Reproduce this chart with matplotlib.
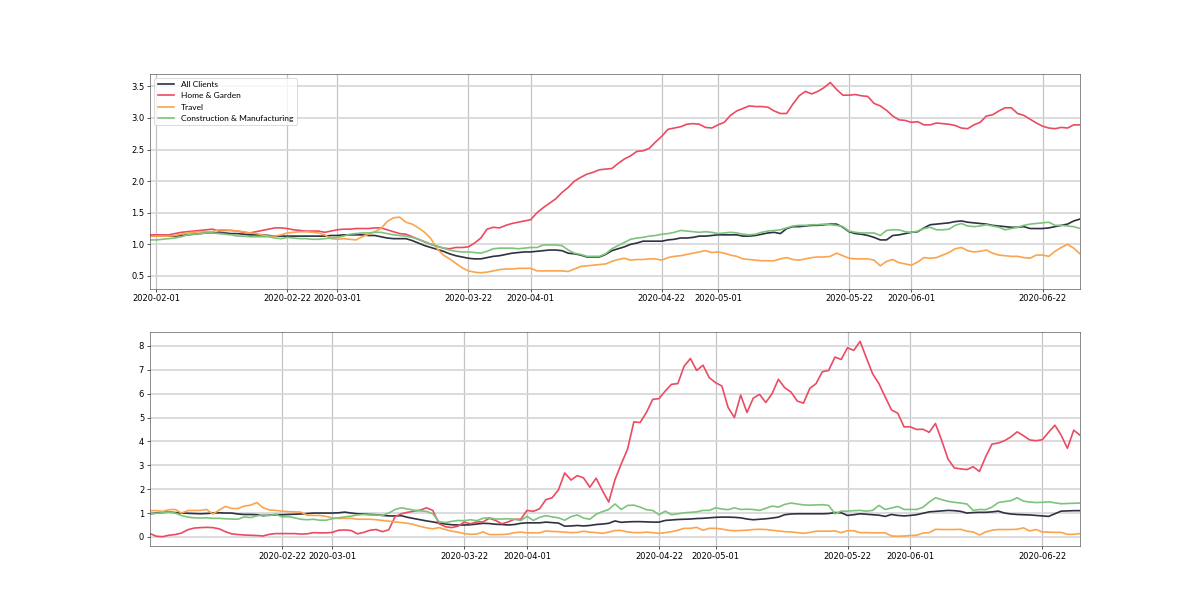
import matplotlib
matplotlib.use("Agg")
import matplotlib.pyplot as plt
import matplotlib.dates as mdates
import pandas as pd

series_names = ["All Clients", "Home & Garden", "Travel", "Construction & Manufacturing"]
colors = ["#2D3142", "#EB4B62", "#FBA44E", "#7DC47B"]

# ---- top panel (daily, 2020-01-31 .. 2020-06-28) ----
top_start = "2020-01-31"
top_all = [1.13,1.13,1.13,1.13,1.13,1.14,1.15,1.16,1.17,1.18,
           1.18,1.18,1.18,1.17,1.17,1.16,1.15,1.15,1.15,1.14,
           1.13,1.13,1.13,1.13,1.13,1.13,1.13,1.13,1.13,1.14,
           1.14,1.15,1.15,1.15,1.15,1.14,1.14,1.12,1.10,1.09,
           1.09,1.09,1.06,1.02,0.98,0.95,0.92,0.89,0.85,0.82,
           0.80,0.78,0.77,0.77,0.79,0.81,0.82,0.84,0.86,0.87,
           0.88,0.88,0.89,0.90,0.91,0.91,0.90,0.86,0.85,0.83,
           0.80,0.80,0.80,0.84,0.90,0.93,0.96,1.00,1.02,1.05,
           1.05,1.05,1.05,1.07,1.08,1.10,1.10,1.11,1.13,1.13,
           1.14,1.15,1.15,1.15,1.15,1.13,1.13,1.14,1.16,1.18,
           1.19,1.17,1.25,1.28,1.28,1.29,1.30,1.30,1.31,1.32,
           1.32,1.27,1.20,1.17,1.16,1.14,1.11,1.07,1.07,1.14,
           1.15,1.17,1.19,1.20,1.26,1.31,1.32,1.33,1.34,1.36,
           1.37,1.35,1.34,1.33,1.32,1.30,1.29,1.28,1.27,1.27,
           1.28,1.25,1.25,1.25,1.26,1.28,1.30,1.32,1.37,1.40]
top_home = [1.15,1.15,1.15,1.15,1.17,1.19,1.20,1.21,1.22,1.23,
            1.24,1.21,1.22,1.22,1.21,1.19,1.18,1.20,1.22,1.24,
            1.26,1.26,1.25,1.23,1.22,1.21,1.21,1.21,1.19,1.21,
            1.23,1.24,1.24,1.25,1.25,1.25,1.26,1.26,1.23,1.20,
            1.17,1.16,1.12,1.08,1.04,1.00,0.97,0.94,0.93,0.95,
            0.95,0.96,1.02,1.10,1.24,1.27,1.26,1.30,1.33,1.35,
            1.37,1.39,1.50,1.58,1.65,1.72,1.82,1.90,2.00,2.06,
            2.11,2.14,2.18,2.19,2.20,2.28,2.35,2.40,2.47,2.48,
            2.52,2.62,2.71,2.82,2.84,2.86,2.90,2.91,2.90,2.85,
            2.84,2.89,2.93,3.04,3.11,3.15,3.19,3.18,3.18,3.17,
            3.11,3.07,3.07,3.22,3.35,3.42,3.38,3.42,3.48,3.56,
            3.45,3.36,3.36,3.37,3.35,3.34,3.23,3.19,3.12,3.03,
            2.97,2.96,2.93,2.94,2.89,2.89,2.92,2.91,2.90,2.88,
            2.84,2.83,2.89,2.93,3.03,3.05,3.11,3.16,3.16,3.07,
            3.04,2.98,2.92,2.87,2.84,2.83,2.85,2.84,2.89,2.89]
top_travel = [1.13,1.13,1.13,1.13,1.14,1.16,1.18,1.19,1.20,1.20,
              1.20,1.23,1.23,1.22,1.21,1.20,1.18,1.17,1.15,1.13,
              1.13,1.15,1.18,1.19,1.20,1.20,1.19,1.18,1.15,1.09,
              1.08,1.09,1.08,1.07,1.12,1.16,1.20,1.25,1.36,1.42,
              1.43,1.35,1.32,1.26,1.19,1.09,0.93,0.83,0.77,0.70,
              0.63,0.58,0.56,0.55,0.56,0.58,0.60,0.61,0.61,0.62,
              0.62,0.62,0.58,0.58,0.58,0.58,0.58,0.57,0.61,0.65,
              0.66,0.67,0.68,0.69,0.73,0.76,0.78,0.75,0.76,0.76,
              0.77,0.77,0.75,0.79,0.81,0.82,0.84,0.86,0.88,0.90,
              0.87,0.88,0.86,0.83,0.81,0.77,0.76,0.75,0.74,0.74,
              0.74,0.77,0.79,0.76,0.75,0.77,0.79,0.80,0.80,0.81,
              0.86,0.82,0.78,0.77,0.77,0.77,0.75,0.66,0.73,0.76,
              0.71,0.69,0.67,0.72,0.79,0.78,0.79,0.83,0.87,0.93,
              0.95,0.90,0.88,0.89,0.91,0.86,0.83,0.82,0.81,0.81,
              0.79,0.78,0.83,0.83,0.81,0.89,0.95,1.00,0.94,0.85]
top_constr = [1.07,1.07,1.08,1.09,1.10,1.12,1.15,1.16,1.17,1.18,
              1.18,1.17,1.16,1.15,1.13,1.13,1.12,1.12,1.12,1.12,
              1.10,1.09,1.11,1.10,1.09,1.09,1.08,1.08,1.09,1.10,
              1.11,1.13,1.16,1.17,1.18,1.18,1.19,1.19,1.17,1.15,
              1.14,1.13,1.11,1.08,1.04,1.00,0.97,0.94,0.91,0.89,
              0.88,0.88,0.87,0.86,0.89,0.93,0.94,0.94,0.94,0.93,
              0.94,0.95,0.95,0.99,0.99,0.99,0.98,0.91,0.86,0.84,
              0.81,0.81,0.81,0.85,0.93,0.98,1.03,1.08,1.10,1.11,
              1.13,1.14,1.16,1.17,1.19,1.22,1.21,1.20,1.19,1.20,
              1.19,1.17,1.18,1.19,1.18,1.16,1.15,1.16,1.19,1.21,
              1.22,1.23,1.26,1.29,1.30,1.30,1.31,1.31,1.32,1.31,
              1.30,1.28,1.21,1.19,1.18,1.18,1.18,1.14,1.22,1.23,
              1.23,1.20,1.19,1.21,1.25,1.27,1.23,1.23,1.24,1.30,
              1.33,1.29,1.28,1.29,1.31,1.29,1.27,1.23,1.25,1.27,
              1.30,1.32,1.33,1.34,1.35,1.30,1.30,1.29,1.28,1.25]

# ---- bottom panel (daily, 2020-02-01 .. 2020-06-28) ----
bot_start = "2020-02-01"
bot_all = [0.97,1.00,1.03,1.04,1.02,1.00,0.99,0.98,0.97,0.98,
           1.00,1.01,1.00,1.00,0.96,0.94,0.94,0.93,0.89,0.91,
           0.93,0.93,0.94,0.95,0.96,0.98,1.00,1.00,1.00,1.00,
           1.01,1.04,1.00,0.97,0.96,0.94,0.93,0.90,0.88,0.88,
           0.89,0.82,0.77,0.72,0.67,0.63,0.58,0.54,0.51,0.50,
           0.50,0.51,0.54,0.57,0.56,0.53,0.52,0.50,0.52,0.57,
           0.59,0.59,0.59,0.62,0.60,0.58,0.45,0.46,0.48,0.46,
           0.48,0.52,0.54,0.57,0.67,0.61,0.63,0.64,0.64,0.63,
           0.62,0.62,0.69,0.71,0.73,0.74,0.75,0.77,0.78,0.80,
           0.82,0.83,0.83,0.82,0.80,0.75,0.72,0.74,0.76,0.79,
           0.83,0.93,0.96,0.97,0.97,0.97,0.97,0.97,0.98,1.02,
           1.01,0.90,0.93,0.97,0.95,0.93,0.91,0.86,0.94,0.90,
           0.88,0.90,0.93,0.99,1.05,1.07,1.09,1.11,1.10,1.07,
           1.00,1.02,1.03,1.03,1.05,1.08,1.00,0.96,0.94,0.93,
           0.92,0.90,0.88,0.86,0.97,1.08,1.09,1.10,1.10]
bot_home = [0.14,0.03,0.01,0.07,0.10,0.16,0.30,0.37,0.39,0.40,
            0.39,0.34,0.22,0.13,0.10,0.08,0.07,0.06,0.04,0.11,
            0.14,0.14,0.14,0.14,0.12,0.13,0.18,0.17,0.17,0.19,
            0.28,0.29,0.27,0.13,0.19,0.28,0.31,0.22,0.30,0.85,
            0.97,1.03,1.08,1.12,1.22,1.11,0.55,0.43,0.39,0.45,
            0.62,0.55,0.63,0.63,0.78,0.69,0.55,0.63,0.74,0.74,
            1.11,1.07,1.18,1.56,1.64,1.97,2.68,2.38,2.57,2.47,
            2.08,2.46,1.94,1.46,2.40,3.06,3.68,4.82,4.79,5.21,
            5.76,5.79,6.11,6.39,6.42,7.15,7.47,6.97,7.19,6.67,
            6.46,6.32,5.42,5.00,5.94,5.21,5.81,5.97,5.63,6.00,
            6.60,6.25,6.07,5.69,5.60,6.22,6.42,6.92,6.97,7.53,
            7.43,7.92,7.81,8.19,7.50,6.83,6.42,5.86,5.32,5.18,
            4.61,4.61,4.50,4.51,4.38,4.75,4.03,3.26,2.89,2.85,
            2.82,2.94,2.74,3.36,3.89,3.93,4.03,4.19,4.40,4.24,
            4.06,4.03,4.07,4.38,4.68,4.26,3.71,4.47,4.26]
bot_travel = [1.10,1.10,1.07,1.14,1.15,1.00,1.10,1.11,1.11,1.15,
              0.96,1.12,1.28,1.19,1.19,1.29,1.33,1.44,1.22,1.13,
              1.11,1.08,1.06,1.05,1.04,0.91,0.90,0.90,0.86,0.80,
              0.77,0.78,0.78,0.74,0.74,0.74,0.72,0.69,0.66,0.63,
              0.60,0.57,0.52,0.44,0.38,0.34,0.39,0.31,0.24,0.20,
              0.14,0.11,0.12,0.21,0.10,0.10,0.10,0.12,0.18,0.20,
              0.17,0.17,0.17,0.25,0.23,0.22,0.20,0.18,0.19,0.24,
              0.20,0.18,0.15,0.20,0.27,0.27,0.21,0.18,0.18,0.20,
              0.18,0.15,0.18,0.22,0.28,0.36,0.36,0.40,0.28,0.36,
              0.36,0.33,0.28,0.26,0.27,0.28,0.31,0.32,0.31,0.28,
              0.25,0.22,0.21,0.18,0.15,0.19,0.24,0.24,0.24,0.25,
              0.18,0.26,0.26,0.18,0.18,0.17,0.17,0.17,0.04,0.03,
              0.04,0.06,0.07,0.16,0.18,0.32,0.31,0.31,0.31,0.32,
              0.24,0.21,0.08,0.21,0.28,0.31,0.31,0.31,0.32,0.38,
              0.25,0.31,0.21,0.20,0.19,0.19,0.11,0.11,0.14]
bot_constr = [0.97,0.99,1.01,1.04,1.00,0.90,0.83,0.80,0.79,0.80,
              0.78,0.78,0.76,0.75,0.74,0.84,0.81,0.88,0.92,0.90,
              0.95,0.84,0.85,0.80,0.74,0.72,0.74,0.70,0.70,0.76,
              0.80,0.84,0.87,0.92,0.94,0.92,0.92,0.90,1.00,1.15,
              1.22,1.17,1.12,1.09,1.07,0.97,0.64,0.60,0.65,0.69,
              0.68,0.72,0.68,0.78,0.80,0.75,0.75,0.76,0.74,0.69,
              0.86,0.69,0.82,0.89,0.84,0.80,0.70,0.85,0.92,0.79,
              0.74,0.95,1.06,1.15,1.38,1.15,1.32,1.33,1.25,1.14,
              1.11,0.93,1.08,0.93,0.97,1.01,1.03,1.05,1.11,1.11,
              1.22,1.17,1.14,1.22,1.15,1.16,1.15,1.11,1.20,1.29,
              1.25,1.36,1.42,1.38,1.34,1.33,1.34,1.35,1.32,0.97,
              1.08,1.08,1.10,1.11,1.08,1.11,1.32,1.15,1.21,1.28,
              1.15,1.15,1.15,1.24,1.46,1.64,1.56,1.49,1.45,1.42,
              1.38,1.11,1.15,1.14,1.25,1.44,1.48,1.52,1.64,1.50,
              1.46,1.44,1.45,1.47,1.43,1.39,1.40,1.41,1.42]

tick_labels = ["2020-02-01", "2020-02-22", "2020-03-01", "2020-03-22", "2020-04-01",
               "2020-04-22", "2020-05-01", "2020-05-22", "2020-06-01", "2020-06-22"]

fig, (ax1, ax2) = plt.subplots(2, 1, figsize=(20, 6.14 * 20 / 12), dpi=60)

panels = [
    (ax1, top_start, [top_all, top_home, top_travel, top_constr], tick_labels),
    (ax2, bot_start, [bot_all, bot_home, bot_travel, bot_constr], tick_labels[1:]),
]
for ax, start, data, ticks in panels:
    dates = pd.date_range(start, periods=len(data[0]), freq="D")
    for name, vals, col in zip(series_names, data, colors):
        ax.plot(dates, vals, color=col, linewidth=2, label=name)
    ax.set_xlim(dates[0], dates[-1])
    ax.set_xticks(pd.to_datetime(ticks))
    ax.xaxis.set_major_formatter(mdates.DateFormatter("%Y-%m-%d"))
    ax.yaxis.grid(True, color="#d6d6d6", linewidth=2)
    ax.xaxis.grid(True, color="#c4c4c4", linewidth=1.5)
    ax.set_axisbelow(True)
    for sp in ax.spines.values():
        sp.set_color("#555555")

ax1.set_ylim(0.30, 3.70)
ax1.legend(loc="upper left", prop={"family": "Lato", "size": 10})

fig.savefig("out.png", dpi=60)
